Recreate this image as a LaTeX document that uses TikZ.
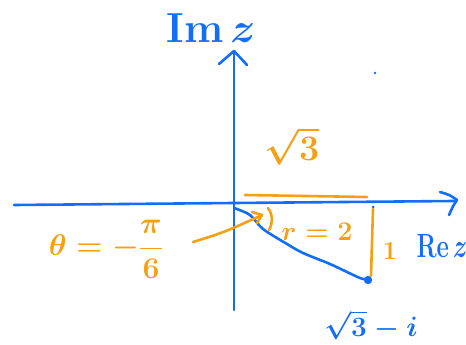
\documentclass[tikz,border=0pt]{standalone}
\usepackage{fix-cm}
\usepackage{amsmath}
\usepackage{graphicx}
\definecolor{pblue}{RGB}{20,110,245}
\definecolor{porange}{RGB}{245,160,20}
\begin{document}
\begin{tikzpicture}[x=1pt,y=-1pt, line cap=round, line join=round,
  bl/.style={draw=pblue, line width=2.6pt},
  orl/.style={draw=porange, line width=2.6pt},
  btxt/.style={text=pblue, inner sep=0pt},
  otxt/.style={text=porange, inner sep=0pt}]
\useasboundingbox (0,0) rectangle (466,345);
% axes
\coordinate (xl) at (14,205);
\coordinate (xr) at (454,201);
\coordinate (yb) at (234,310);
\coordinate (yt) at (234,51);
\draw[bl] (xl) -- (xr);
\draw[bl] (440,192) .. controls (450,195) .. (457,200) .. controls (453,206) .. (449,215);
\draw[bl] (yb) -- (yt);
\draw[bl] (219,64) -- (yt) -- (247,65);
% labels of axes
\node[btxt, font=\fontsize{42}{44}\selectfont\bfseries\boldmath] (im) at (211,28) {Im\,$z$};
\node[btxt, font=\fontsize{24}{26}\selectfont\bfseries\boldmath] (re) at (442,246) {\scalebox{1}[1.4]{Re\,$z$}};
\fill[pblue] (375,73) circle (1.4);
% point
\coordinate (o) at (234,208);
\coordinate (p) at (368,280);
\draw[bl] plot[smooth, tension=0.5] coordinates {(o) (250,215) (263,229) (287,244) (303,253) (330,264) (347,272) (360,278) (p)};
\fill[pblue] (p) circle (4.2);
\node[btxt, font=\fontsize{28}{30}\selectfont\boldmath] (z) at (371,325) {$\sqrt{3}-i$};
% orange parts
\draw[orl] (245,195) -- (367,197);
\coordinate (vt) at (373,209);
\coordinate (vb) at (371,276);
\draw[orl] (vt) -- (vb);
\fill[pblue] (373,207) circle (1.5);
\node[otxt, font=\fontsize{36}{38}\selectfont\boldmath] (s3) at (292,146) {$\sqrt{3}$};
\node[otxt, font=\fontsize{27}{29}\selectfont\boldmath] (r) at (317,232) {$r=2$};
\node[otxt, font=\fontsize{26}{28}\selectfont\boldmath] (one) at (390,251) {$1$};
\draw[orl] (268,208) .. controls (273,215) and (273,223) .. (269,230);
\node[otxt, font=\fontsize{30}{32}\selectfont\boldmath] (th) at (106,249) {$\theta = -\dfrac{\pi}{6}$};
\coordinate (a1) at (193,242);
\coordinate (a2) at (262,215);
\draw[orl] (a1) .. controls (225,232) .. (a2);
\draw[orl] (252,212) -- (a2) -- (257,223);
\end{tikzpicture}
\end{document}
